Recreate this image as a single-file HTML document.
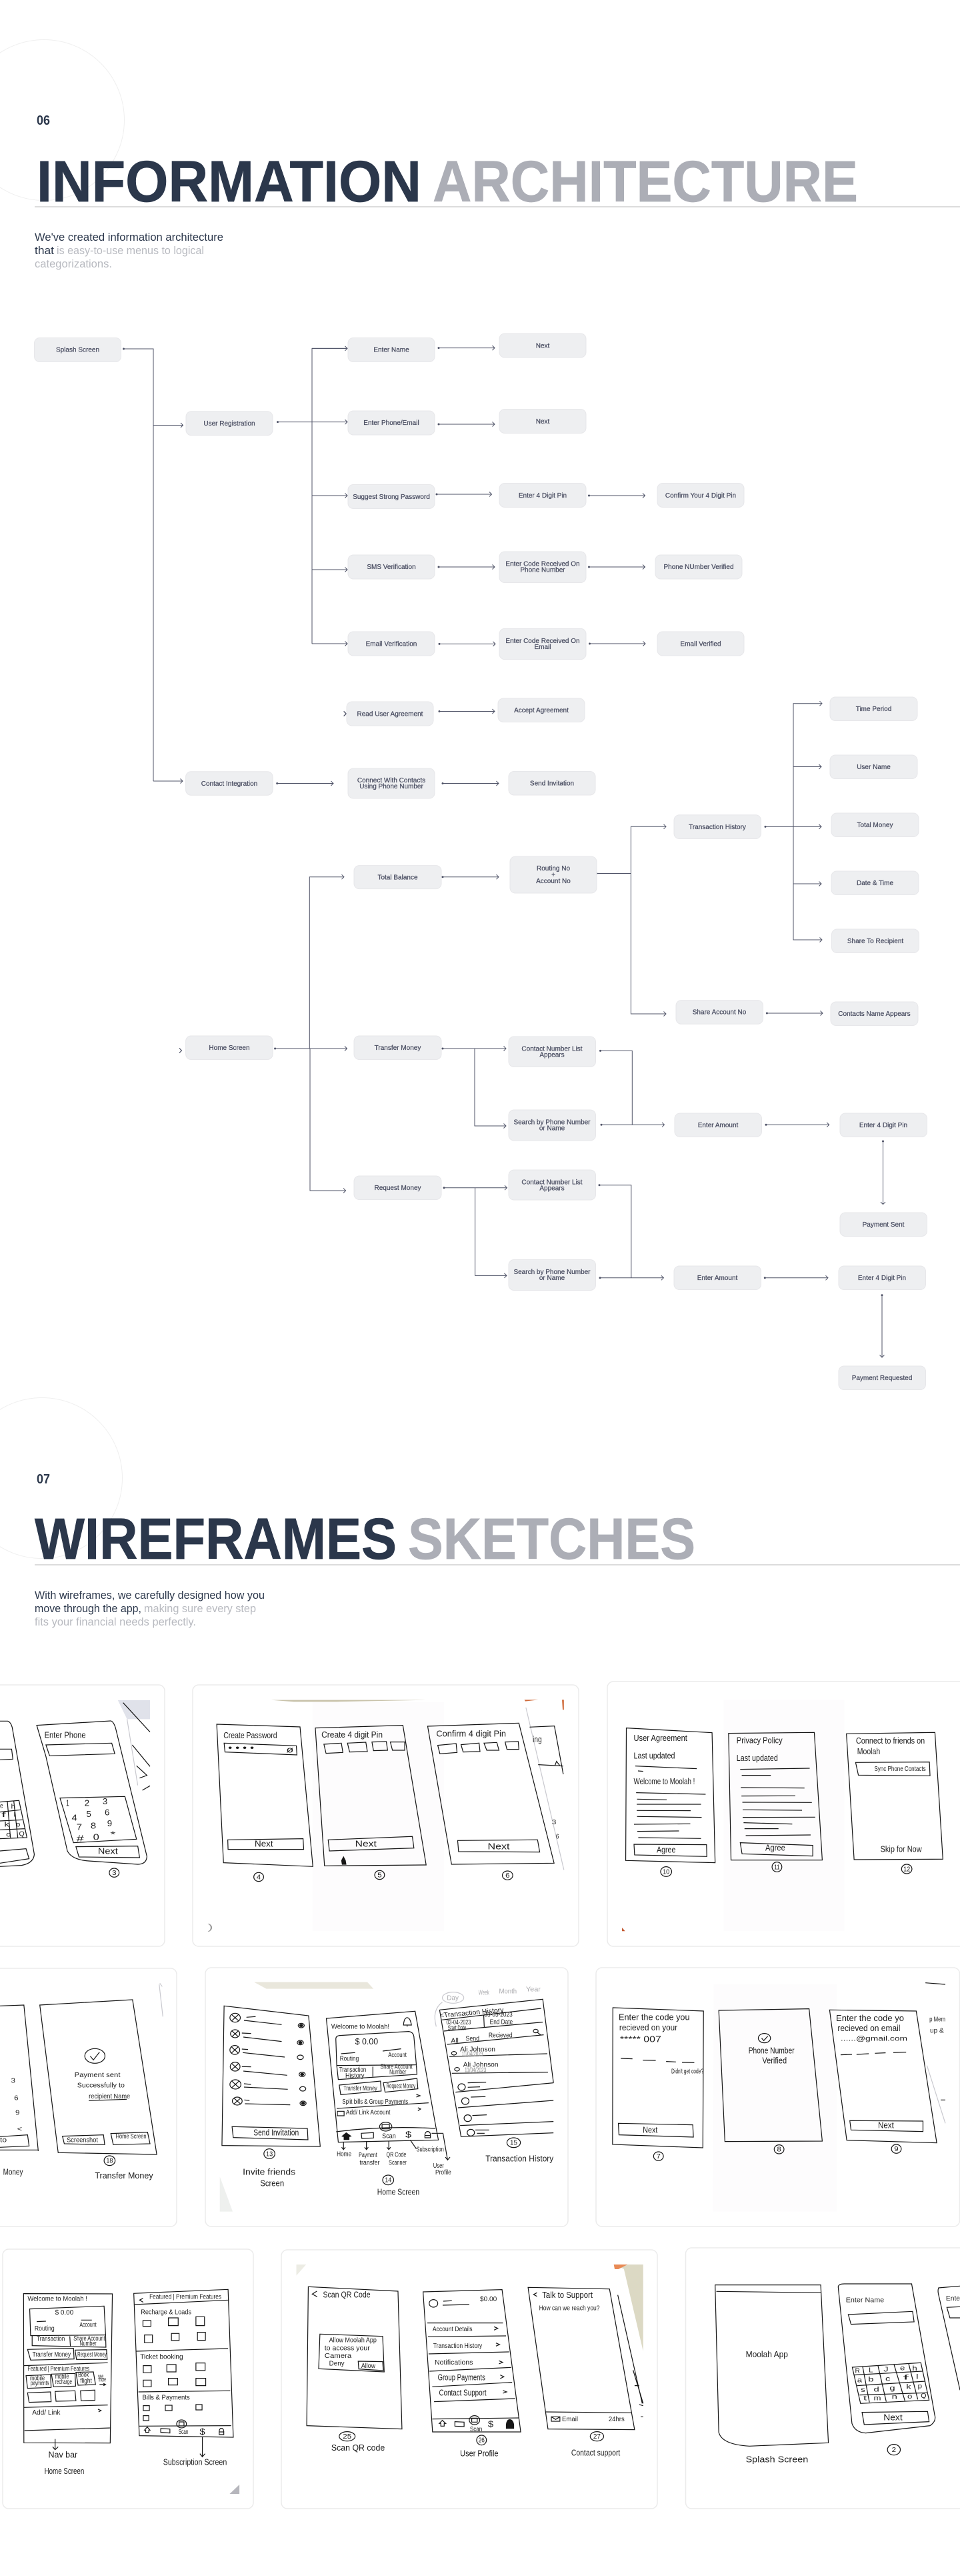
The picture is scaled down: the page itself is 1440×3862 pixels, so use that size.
<!DOCTYPE html>
<html lang="en">
<head>
<meta charset="utf-8">
<title>Information Architecture and Wireframes</title>
<style>
html,body{margin:0;padding:0;background:#fff;width:1440px;height:3862px;overflow:hidden}
svg{display:block;font-family:"Liberation Sans",sans-serif}
.n rect{fill:#eeeff1;stroke:#e7e7ea;stroke-width:1}
.n text{font-size:10px;fill:#4a4e62;text-anchor:middle;font-weight:400;stroke:#4a4e62;stroke-width:.25}
.c path{fill:none;stroke:#4f5367;stroke-width:1;marker-start:url(#d);marker-end:url(#a)}
.c path.b{marker-start:none}
.card{fill:#fff;stroke:#ebebeb;stroke-width:1.5}
.h{stroke-width:.7}
.z path,.z polygon,.z line,.z ellipse,.z rect,.z circle{vector-effect:non-scaling-stroke;fill:none;stroke:#161616;stroke-width:1.2}
.z .f{fill:#161616}
.z .p{stroke:none}
.z .g{stroke:#c9c9cf}
.z text{fill:#1c1c1c;font-size:40px}
.z .s{font-size:31px}
.z .l{fill:#a9a9ad}
</style>
</head>
<body>
<svg width="1440" height="3862" viewBox="0 0 1440 3862" xmlns="http://www.w3.org/2000/svg">
<defs>
<marker id="a" viewBox="-6 -6 12 12" refX="0" refY="0" markerWidth="12" markerHeight="12" orient="auto" markerUnits="userSpaceOnUse"><path d="M-3.5,-3.5L0,0L-3.5,3.5" fill="none" stroke="#4f5367" stroke-width="1"/></marker>
<marker id="d" viewBox="-3 -3 6 6" refX="0" refY="0" markerWidth="6" markerHeight="6" orient="auto" markerUnits="userSpaceOnUse"><circle r="1.5" fill="#4f5367"/></marker>
</defs>
<rect width="1440" height="3862" fill="#fff"/>

<!-- Section 06 -->
<circle cx="66" cy="180" r="120.5" fill="none" stroke="#efefef" stroke-width="1"/>
<text x="55" y="187" font-size="20" font-weight="700" fill="#2b374b" textLength="20" lengthAdjust="spacingAndGlyphs">06</text>
<text class="h" x="55" y="302" font-size="87" font-weight="700" fill="#2b374b" stroke="#2b374b" textLength="577" lengthAdjust="spacingAndGlyphs">INFORMATION</text>
<text class="h" x="649" y="302" font-size="87" font-weight="700" fill="#acaeb6" stroke="#acaeb6" textLength="638" lengthAdjust="spacingAndGlyphs">ARCHITECTURE</text>
<rect x="52" y="309" width="1388" height="2" fill="#dcdcdc"/>
<text x="52" y="361" font-size="17" fill="#2b374b" textLength="283" lengthAdjust="spacingAndGlyphs">We've created information architecture</text>
<text x="52" y="381" font-size="17" fill="#2b374b" textLength="29" lengthAdjust="spacingAndGlyphs">that</text>
<text x="85" y="381" font-size="17" fill="#b8bac0" textLength="221" lengthAdjust="spacingAndGlyphs">is easy-to-use menus to logical</text>
<text x="52" y="401" font-size="17" fill="#b8bac0" textLength="116" lengthAdjust="spacingAndGlyphs">categorizations.</text>

<!-- Connectors -->
<g class="c">
<path class="b" style="marker-end:none" d="M185.5,523H230V1171"/>
<circle cx="185.5" cy="523" r="1.5" fill="#4f5367"/>
<path class="b" d="M230,637.5H274.5"/>
<path class="b" d="M230,1171H274"/>
<path d="M416.5,632.6H521"/>
<path class="b" style="marker-end:none" d="M521,522.4H468V965"/>
<path class="b" d="M468,522.4H521"/>
<path class="b" d="M468,743H521"/>
<path class="b" d="M468,854H521"/>
<path class="b" d="M468,965H521"/>
<path class="b" d="M515,1070H519" style="stroke:none"/>
<path d="M658,521.6H742"/>
<path d="M658,636H742"/>
<path d="M655,741H737.5"/>
<path d="M658,850H742"/>
<path d="M659,965.4H743"/>
<path d="M659,1066.5H742"/>
<path d="M883.5,743H967.5"/>
<path d="M883.5,850H967.5"/>
<path d="M884.5,965H968"/>
<path d="M415.7,1174.5H500"/>
<path d="M664,1174.5H748"/>
<path d="M664,1314.7H748"/>
<path class="b" d="M268,1575H272.5" style="stroke:none"/>
<path d="M412.6,1572H520.5"/>
<path class="b" d="M464.3,1572V1314.7H516"/>
<path class="b" d="M465,1572V1785H518.6"/>
<path d="M664,1572H759"/>
<path class="b" d="M712,1572V1688H759"/>
<path d="M666,1780.7H760.5"/>
<path class="b" d="M712.6,1780.7V1912.4H760"/>
<path d="M894.7,1309.5H946.4"  style="marker-end:none"/>
<path class="b" d="M946.4,1309.5V1239.3H999"/>
<path class="b" d="M946.4,1309.5V1520H999"/>
<path d="M1148,1239.4H1232"/>
<path class="b" d="M1190,1239.4V1054.7H1233"/>
<path class="b" d="M1190,1149.5H1232"/>
<path class="b" d="M1190,1239.4V1409H1233"/>
<path class="b" d="M1190,1325H1232"/>
<path d="M1150.4,1519H1234"/>
<path style="marker-end:none" d="M900.5,1575.4H948.3V1686.3"/>
<path d="M902,1686.3H996.5"/>
<path style="marker-end:none" d="M899,1776.8H946.8V1915.8"/>
<path d="M900,1915.8H995.4"/>
<path d="M1149,1686.3H1243.7"/>
<path d="M1324.5,1711V1805.6"/>
<path d="M1147.3,1915.8H1242"/>
<path d="M1323,1941.8V2035"/>
</g>
<path d="M516,1066.5L519.5,1070L516,1073.5M269,1571.5L272.5,1575L269,1578.5" fill="none" stroke="#4f5367"/>

<!-- Nodes -->
<g class="n">
<rect x="51.5" y="506.5" width="130" height="36" rx="8"/><text x="116.5" y="527.5">Splash Screen</text>
<rect x="279" y="616.7" width="130" height="36" rx="8"/><text x="344" y="638">User Registration</text>
<rect x="522" y="506.5" width="130" height="36" rx="8"/><text x="587" y="527.5">Enter Name</text>
<rect x="522" y="616" width="130" height="36" rx="8"/><text x="587" y="637">Enter Phone/Email</text>
<rect x="522" y="726.5" width="130" height="36" rx="8"/><text x="587" y="748">Suggest Strong Password</text>
<rect x="522" y="832" width="130" height="36" rx="8"/><text x="587" y="853">SMS Verification</text>
<rect x="522" y="947" width="130" height="36" rx="8"/><text x="587" y="968.5">Email Verification</text>
<rect x="520" y="1052" width="130" height="36" rx="8"/><text x="585" y="1073.5">Read User Agreement</text>
<rect x="749" y="500" width="130" height="36" rx="8"/><text x="814" y="521.5">Next</text>
<rect x="749" y="613.5" width="130" height="36" rx="8"/><text x="814" y="635">Next</text>
<rect x="749" y="724.5" width="130" height="36" rx="8"/><text x="814" y="746">Enter 4 Digit Pin</text>
<rect x="986" y="724.5" width="130" height="36" rx="8"/><text x="1051" y="746">Confirm Your 4 Digit Pin</text>
<rect x="749" y="827" width="130" height="46.5" rx="8"/><text x="814" y="848.5">Enter Code Received On</text><text x="814" y="857.5">Phone Number</text>
<rect x="983" y="832" width="130" height="36" rx="8"/><text x="1048" y="853">Phone NUmber Verified</text>
<rect x="749" y="942.4" width="130" height="46.2" rx="8"/><text x="814" y="964">Enter Code Received On</text><text x="814" y="973">Email</text>
<rect x="986" y="947" width="130" height="36" rx="8"/><text x="1051" y="968.5">Email Verified</text>
<rect x="747" y="1047" width="130" height="35.5" rx="8"/><text x="812" y="1068">Accept Agreement</text>
<rect x="1245" y="1045" width="131" height="35.5" rx="8"/><text x="1310.5" y="1066">Time Period</text>
<rect x="1245" y="1132" width="131" height="35.5" rx="8"/><text x="1310.5" y="1153">User Name</text>
<rect x="1247" y="1219" width="131" height="35.5" rx="8"/><text x="1312.5" y="1240">Total Money</text>
<rect x="1247" y="1306" width="131" height="35.5" rx="8"/><text x="1312.5" y="1327">Date &amp; Time</text>
<rect x="1247.5" y="1393" width="131" height="35.5" rx="8"/><text x="1313" y="1414">Share To Recipient</text>
<rect x="1246" y="1502" width="131" height="35.5" rx="8"/><text x="1311.5" y="1523">Contacts Name Appears</text>
<rect x="278.6" y="1156.7" width="130.5" height="35.5" rx="8"/><text x="344" y="1178">Contact Integration</text>
<rect x="522" y="1152" width="130" height="45" rx="8"/><text x="587" y="1173">Connect With Contacts</text><text x="587" y="1182">Using Phone Number</text>
<rect x="763" y="1156.5" width="130" height="35.5" rx="8"/><text x="828" y="1177.5">Send Invitation</text>
<rect x="531" y="1297.6" width="131" height="35" rx="8"/><text x="596.5" y="1318.5">Total Balance</text>
<rect x="765" y="1284" width="130" height="55" rx="8"/><text x="830" y="1305">Routing No</text><text x="830" y="1314.5">+</text><text x="830" y="1324">Account No</text>
<rect x="278.6" y="1553" width="130.5" height="35.5" rx="8"/><text x="344" y="1574">Home Screen</text>
<rect x="531" y="1553" width="131" height="35.5" rx="8"/><text x="596.5" y="1574">Transfer Money</text>
<rect x="531" y="1763" width="131" height="35.5" rx="8"/><text x="596.5" y="1784">Request Money</text>
<rect x="763" y="1554" width="130.5" height="45.5" rx="8"/><text x="828" y="1575.5">Contact Number List</text><text x="828" y="1584.5">Appears</text>
<rect x="763" y="1664" width="130.5" height="46" rx="8"/><text x="828" y="1685.5">Search by Phone Number</text><text x="828" y="1694.5">or Name</text>
<rect x="763" y="1754" width="130.5" height="45" rx="8"/><text x="828" y="1775.5">Contact Number List</text><text x="828" y="1784.5">Appears</text>
<rect x="763" y="1888.5" width="130.5" height="46" rx="8"/><text x="828" y="1910">Search by Phone Number</text><text x="828" y="1919">or Name</text>
<rect x="1011" y="1221.8" width="130.5" height="35.7" rx="8"/><text x="1076" y="1243">Transaction History</text>
<rect x="1014" y="1499.6" width="130.5" height="35.7" rx="8"/><text x="1079" y="1520.5">Share Account No</text>
<rect x="1012" y="1669" width="130.5" height="35.5" rx="8"/><text x="1077" y="1690">Enter Amount</text>
<rect x="1260" y="1669" width="130.5" height="35.5" rx="8"/><text x="1325" y="1690">Enter 4 Digit Pin</text>
<rect x="1260" y="1818" width="130.5" height="35.5" rx="8"/><text x="1325" y="1839">Payment Sent</text>
<rect x="1011" y="1898" width="130.5" height="35.5" rx="8"/><text x="1076" y="1919">Enter Amount</text>
<rect x="1258" y="1898" width="130.5" height="35.5" rx="8"/><text x="1323" y="1919">Enter 4 Digit Pin</text>
<rect x="1258" y="2048" width="130.5" height="35.5" rx="8"/><text x="1323" y="2069">Payment Requested</text>
</g>

<!-- Section 07 -->
<circle cx="63" cy="2216" r="120.5" fill="none" stroke="#efefef" stroke-width="1"/>
<text x="55" y="2224" font-size="20" font-weight="700" fill="#2b374b" textLength="20" lengthAdjust="spacingAndGlyphs">07</text>
<text class="h" x="52" y="2337" font-size="87" font-weight="700" fill="#2b374b" stroke="#2b374b" textLength="543" lengthAdjust="spacingAndGlyphs">WIREFRAMES</text>
<text class="h" x="612" y="2337" font-size="87" font-weight="700" fill="#acaeb6" stroke="#acaeb6" textLength="431" lengthAdjust="spacingAndGlyphs">SKETCHES</text>
<rect x="52" y="2345" width="1388" height="2" fill="#dcdcdc"/>
<text x="52" y="2397" font-size="17" fill="#2b374b" textLength="345" lengthAdjust="spacingAndGlyphs">With wireframes, we carefully designed how you</text>
<text x="52" y="2417" font-size="17" fill="#2b374b" textLength="160" lengthAdjust="spacingAndGlyphs">move through the app,</text>
<text x="216" y="2417" font-size="17" fill="#b8bac0" textLength="168" lengthAdjust="spacingAndGlyphs">making sure every step</text>
<text x="52" y="2437" font-size="17" fill="#b8bac0" textLength="242" lengthAdjust="spacingAndGlyphs">fits your financial needs perfectly.</text>

<!-- Cards -->
<rect class="card" x="-20" y="2526" width="267" height="392" rx="9"/>
<rect class="card" x="289" y="2526" width="579" height="392" rx="9"/>
<rect class="card" x="911" y="2521" width="560" height="397" rx="9"/>
<rect class="card" x="-20" y="2951" width="285" height="387" rx="9"/>
<rect class="card" x="308" y="2950" width="544" height="388" rx="9"/>
<rect class="card" x="894" y="2950" width="545.5" height="388" rx="9"/>
<rect class="card" x="4" y="3372" width="376" height="389" rx="9"/>
<rect class="card" x="422" y="3373" width="564" height="388" rx="9"/>
<rect class="card" x="1028.5" y="3370" width="440" height="391" rx="9"/>

<!-- Row 1 left -->
<g class="z" transform="translate(0,2500) scale(.4592,.3333)">
<polygon class="p" style="fill:#e0e2ea" points="385,147 490,147 490,232 415,232"/>
<polygon class="p" style="fill:#fdfcfd" points="1020,155 1450,155 1450,1185 1020,1185"/>
<polygon class="p" style="fill:#c9c3ab" points="885,146 1390,146 1100,154 960,154"/>
<path class="g" d="M415,232L450,530"/>
<path d="M0,241H25Q35,245 40,270L112,840Q110,880 70,890L0,895M0,367L38,367L42,412L0,415M0,605L62,598L88,765L0,770M0,650L68,640M0,690L75,685M0,730L82,725M24,602L34,765M45,600L58,765M0,825L85,815L95,860L0,880"/>
<text class="s" x="0" y="632" textLength="10" lengthAdjust="spacingAndGlyphs">e</text><text class="s" x="36" y="634" textLength="14" lengthAdjust="spacingAndGlyphs">h</text><text class="s" x="5" y="672" textLength="14" lengthAdjust="spacingAndGlyphs">f</text><text class="s" x="44" y="670" textLength="8" lengthAdjust="spacingAndGlyphs">l</text><text class="s" x="14" y="716" textLength="16" lengthAdjust="spacingAndGlyphs">k</text><text class="s" x="52" y="715" textLength="14" lengthAdjust="spacingAndGlyphs">p</text><text class="s" x="20" y="760" textLength="16" lengthAdjust="spacingAndGlyphs">o</text><text class="s" x="62" y="757" textLength="18" lengthAdjust="spacingAndGlyphs">Q</text>
<path d="M120,260L362,240Q372,245 378,275L480,850Q478,885 450,885L290,870Q235,865 220,825L150,400Z"/>
<polygon points="150,348 365,340 375,388 162,397"/><polygon points="196,587 408,580 446,772 240,788"/><polygon points="248,806 450,803 456,855 258,852"/>
<text x="145" y="316" textLength="135" lengthAdjust="spacingAndGlyphs">Enter Phone</text>
<text x="216" y="622" textLength="10" lengthAdjust="spacingAndGlyphs">1</text><text x="276" y="622" textLength="16" lengthAdjust="spacingAndGlyphs">2</text><text x="335" y="615" textLength="16" lengthAdjust="spacingAndGlyphs">3</text><text x="234" y="688" textLength="18" lengthAdjust="spacingAndGlyphs">4</text><text x="282" y="672" textLength="16" lengthAdjust="spacingAndGlyphs">5</text><text x="342" y="664" textLength="16" lengthAdjust="spacingAndGlyphs">6</text><text x="250" y="730" textLength="18" lengthAdjust="spacingAndGlyphs">7</text><text x="296" y="724" textLength="18" lengthAdjust="spacingAndGlyphs">8</text><text x="350" y="714" textLength="16" lengthAdjust="spacingAndGlyphs">9</text><text x="250" y="782" textLength="24" lengthAdjust="spacingAndGlyphs">#</text><text x="304" y="776" textLength="20" lengthAdjust="spacingAndGlyphs">0</text><text x="360" y="764" textLength="18" lengthAdjust="spacingAndGlyphs">*</text>
<text x="320" y="838" textLength="65" lengthAdjust="spacingAndGlyphs">Next</text>
<ellipse cx="373" cy="923" rx="16" ry="20"/><text class="s" x="366" y="933" textLength="14" lengthAdjust="spacingAndGlyphs">3</text>
<path d="M402,158L490,290M432,348L490,445M446,442L480,485L456,497M465,552L490,532"/>
<!-- Card 2 -->
<polygon points="708,255 980,267 1022,895 730,878"/><polygon points="732,340 968,352 970,393 735,380"/><polygon points="744,775 990,770 992,818 745,818"/>
<text x="730" y="318" textLength="175" lengthAdjust="spacingAndGlyphs">Create Password</text>
<text x="745" y="374" textLength="85" lengthAdjust="spacingAndGlyphs">• • • •</text><text x="935" y="382" textLength="24" lengthAdjust="spacingAndGlyphs">ø</text>
<text x="832" y="805" textLength="60" lengthAdjust="spacingAndGlyphs">Next</text>
<ellipse cx="845" cy="942" rx="16" ry="20"/><text class="s" x="838" y="952" textLength="14" lengthAdjust="spacingAndGlyphs">4</text>
<polygon points="1030,272 1316,260 1392,888 1060,892"/>
<polygon points="1058,345 1115,340 1120,382 1065,386"/><polygon points="1135,340 1195,336 1200,378 1142,380"/><polygon points="1215,335 1262,333 1266,372 1220,374"/><polygon points="1275,335 1322,335 1322,372 1282,372"/><polygon points="1072,775 1347,760 1352,812 1076,825"/>
<text x="1050" y="315" textLength="200" lengthAdjust="spacingAndGlyphs">Create 4 digit Pin</text>
<text x="1160" y="805" textLength="70" lengthAdjust="spacingAndGlyphs">Next</text>
<ellipse cx="1240" cy="933" rx="16" ry="20"/><text class="s" x="1233" y="943" textLength="14" lengthAdjust="spacingAndGlyphs">5</text>
<path class="f" d="M1118,885L1116,868L1122,852L1128,868L1130,885Z"/>
<text x="678" y="1180" textLength="18" lengthAdjust="spacingAndGlyphs" style="fill:#999">)</text>
</g>

<!-- Row 1 right -->
<g class="z" transform="translate(720,2500) scale(.4592,.3333)">
<polygon class="p" style="fill:#cf6a3a" points="145,145 190,145 148,152"/>
<polygon class="p" style="fill:#cf6a3a" points="268,145 274,145 274,190 270,190"/>
<path class="g" d="M150,180L274,910"/>
<polygon points="-171,264 127,250 242,880 -93,885"/>
<polygon points="-138,350 -78,342 -75,382 -131,388"/><polygon points="-62,347 -3,340 0,378 -55,380"/><polygon points="13,340 55,337 62,372 22,372"/><polygon points="82,335 125,333 127,368 88,368"/><polygon points="-73,778 188,775 195,830 -70,828"/>
<text x="-143" y="310" textLength="228" lengthAdjust="spacingAndGlyphs">Confirm 4 digit Pin</text>
<text x="25" y="818" textLength="72" lengthAdjust="spacingAndGlyphs">Next</text>
<ellipse cx="90" cy="935" rx="17" ry="20"/><text class="s" x="83" y="945" textLength="14" lengthAdjust="spacingAndGlyphs">6</text>
<path d="M162,268L243,263L272,480M190,437L272,443M245,440L250,422L260,440"/>
<text x="172" y="336" textLength="30" lengthAdjust="spacingAndGlyphs">ing</text>
<text class="s" x="235" y="705" textLength="14" lengthAdjust="spacingAndGlyphs">3</text><text class="s" x="248" y="770" textLength="10" lengthAdjust="spacingAndGlyphs">6</text>
<!-- Card 3 -->
<polygon class="p" style="fill:#fdfcfd" points="796,145 1190,145 1190,1185 796,1185"/>
<polygon class="p" style="fill:#c2552c" points="464,1170 474,1186 464,1186"/>
<polygon points="478,272 758,293 768,878 476,868"/><polygon points="503,795 740,797 741,850 505,843"/>
<text x="502" y="330" textLength="175" lengthAdjust="spacingAndGlyphs">User Agreement</text>
<text x="502" y="410" textLength="135" lengthAdjust="spacingAndGlyphs">Last updated</text>
<text x="502" y="525" textLength="200" lengthAdjust="spacingAndGlyphs">Welcome to Moolah !</text>
<path d="M507,443L708,455M516,465L533,467M510,563L737,570M513,592L610,595M512,615L722,615M512,643L688,644M513,670L724,674M503,705L687,703M514,737L650,735M517,765L722,769"/>
<text x="577" y="832" textLength="62" lengthAdjust="spacingAndGlyphs">Agree</text>
<ellipse cx="608" cy="918" rx="18" ry="22"/><text class="s" x="597" y="928" textLength="22" lengthAdjust="spacingAndGlyphs">10</text>
<polygon points="812,296 1092,292 1118,866 820,866"/><polygon points="850,788 1087,800 1087,848 856,838"/>
<text x="838" y="340" textLength="150" lengthAdjust="spacingAndGlyphs">Privacy Policy</text>
<text x="838" y="420" textLength="135" lengthAdjust="spacingAndGlyphs">Last updated</text>
<path d="M850,458L1077,453M855,485L950,485M852,540L1060,542M854,578L1030,577M857,606L1084,607M858,640L1052,642M858,674L1095,673M861,698L1020,704M864,725L975,725M868,756L1080,753"/>
<text x="932" y="823" textLength="65" lengthAdjust="spacingAndGlyphs">Agree</text>
<ellipse cx="970" cy="897" rx="16" ry="22"/><text class="s" x="961" y="907" textLength="18" lengthAdjust="spacingAndGlyphs">11</text>
<polygon points="1197,298 1486,292 1512,862 1222,864"/><polygon points="1227,427 1468,425 1470,487 1236,484"/>
<text x="1228" y="342" textLength="225" lengthAdjust="spacingAndGlyphs">Connect to friends on</text>
<text x="1232" y="390" textLength="75" lengthAdjust="spacingAndGlyphs">Moolah</text>
<text class="s" x="1288" y="465" textLength="168" lengthAdjust="spacingAndGlyphs">Sync Phone Contacts</text>
<text x="1308" y="830" textLength="135" lengthAdjust="spacingAndGlyphs">Skip for Now</text>
<ellipse cx="1394" cy="906" rx="17" ry="21"/><text class="s" x="1383" y="916" textLength="22" lengthAdjust="spacingAndGlyphs">12</text>
</g>

<!-- Row 2 left -->
<g class="z" transform="translate(0,2930) scale(.4592,.3333)">
<path d="M0,232L78,228L125,885M0,820L90,812L95,862L0,868M0,880L125,880"/>
<text class="s" x="36" y="578" textLength="14" lengthAdjust="spacingAndGlyphs">3</text><text class="s" x="46" y="655" textLength="14" lengthAdjust="spacingAndGlyphs">6</text><text class="s" x="50" y="722" textLength="14" lengthAdjust="spacingAndGlyphs">9</text><text class="s" x="56" y="795" textLength="16" lengthAdjust="spacingAndGlyphs">&lt;</text>
<text class="s" x="0" y="845" textLength="22" lengthAdjust="spacingAndGlyphs">to</text>
<text x="10" y="992" textLength="65" lengthAdjust="spacingAndGlyphs">Money</text>
<path d="M522,130L530,145M520,135L532,280" class="g"/>
<polygon points="130,228 433,204 512,900 190,892"/>
<circle cx="310" cy="457" r="33"/>
<path d="M295,458L305,475L325,440"/>
<text class="s" x="243" y="552" textLength="150" lengthAdjust="spacingAndGlyphs">Payment sent</text>
<text class="s" x="252" y="598" textLength="155" lengthAdjust="spacingAndGlyphs">Successfully to</text>
<text class="s" x="290" y="648" textLength="135" lengthAdjust="spacingAndGlyphs">recipient Name</text>
<path d="M290,658L414,652"/>
<polygon points="204,818 338,812 342,856 210,852"/><polygon points="362,806 482,800 490,852 370,856"/>
<text class="s" x="218" y="845" textLength="102" lengthAdjust="spacingAndGlyphs">Screenshot</text>
<text class="s" x="378" y="828" textLength="100" lengthAdjust="spacingAndGlyphs">Home Screen</text>
<ellipse cx="358" cy="928" rx="18" ry="22"/><text class="s" x="347" y="938" textLength="22" lengthAdjust="spacingAndGlyphs">18</text>
<text x="310" y="1008" textLength="190" lengthAdjust="spacingAndGlyphs">Transfer Money</text>
<!-- Card 5 -->
<polygon class="p" style="fill:#e9e7dc" points="830,125 1200,125 1220,155 870,155"/>
<polygon class="p" style="fill:#eef0ee" points="718,1000 745,1100 760,1157 718,1157"/>
<polygon points="732,232 1008,276 1046,864 725,860"/>
<g>
<ellipse cx="768" cy="285" rx="17" ry="20"/><path d="M756,270L780,300M780,270L756,300M805,283L835,280M797,297L920,316"/><circle cx="984" cy="320" r="10"/><circle class="f" cx="984" cy="320" r="5"/>
<ellipse cx="768" cy="357" rx="15" ry="18"/><path d="M758,345L778,370M778,345L758,370M790,354L820,356M795,372L920,392"/><circle cx="981" cy="397" r="10"/><circle class="f" cx="981" cy="397" r="5"/>
<ellipse cx="767" cy="430" rx="16" ry="20"/><path d="M756,416L778,444M778,416L756,444M790,426L810,428M793,442L930,462"/><circle cx="981" cy="463" r="10"/>
<ellipse cx="768" cy="505" rx="16" ry="20"/><path d="M757,491L779,519M779,491L757,519M790,505L820,506M795,525L938,544"/><circle cx="987" cy="540" r="10"/><circle class="f" cx="987" cy="540" r="5"/>
<ellipse cx="769" cy="585" rx="18" ry="21"/><path d="M757,570L781,600M781,570L757,600M797,582L820,585M797,597L940,607"/><circle cx="989" cy="605" r="10"/>
<ellipse cx="775" cy="660" rx="16" ry="18"/><path d="M765,648L785,672M785,648L765,672M798,655L815,657M800,672L948,677"/><circle cx="990" cy="670" r="10"/><circle class="f" cx="990" cy="670" r="5"/>
</g>
<polygon points="758,775 1004,783 1006,834 762,824"/>
<text x="828" y="815" textLength="148" lengthAdjust="spacingAndGlyphs">Send Invitation</text>
<ellipse cx="880" cy="897" rx="18" ry="22"/><text class="s" x="869" y="907" textLength="22" lengthAdjust="spacingAndGlyphs">13</text>
<text x="793" y="992" textLength="172" lengthAdjust="spacingAndGlyphs">Invite friends</text>
<text x="850" y="1042" textLength="78" lengthAdjust="spacingAndGlyphs">Screen</text>
<path d="M1066,288L1356,256L1425,785L1432,835L1105,845Z"/>
<text class="s" x="1082" y="335" textLength="190" lengthAdjust="spacingAndGlyphs">Welcome to Moolah!</text>
<path d="M1318,318Q1320,285 1330,285Q1340,285 1344,318ZM1330,318V325"/>
<path d="M1097,380Q1097,367 1110,365L1335,347Q1350,350 1352,370L1360,497L1100,500ZM1100,500L1105,563L1362,540L1360,497M1218,505L1218,550M1114,447L1160,442M1250,435L1310,425"/>
<text x="1160" y="405" textLength="75" lengthAdjust="spacingAndGlyphs">$ 0.00</text>
<text class="s" x="1110" y="478" textLength="62" lengthAdjust="spacingAndGlyphs">Routing</text>
<text class="s" x="1268" y="462" textLength="60" lengthAdjust="spacingAndGlyphs">Account</text>
<text class="s" x="1108" y="528" textLength="88" lengthAdjust="spacingAndGlyphs">Transaction</text>
<text class="s" x="1128" y="555" textLength="62" lengthAdjust="spacingAndGlyphs">History</text>
<text class="s" x="1242" y="515" textLength="105" lengthAdjust="spacingAndGlyphs">Share Account</text>
<text class="s" x="1272" y="538" textLength="55" lengthAdjust="spacingAndGlyphs">Number</text>
<polygon points="1108,588 1243,570 1245,615 1113,631"/><polygon points="1252,578 1362,558 1365,605 1258,620"/>
<text class="s" x="1122" y="612" textLength="110" lengthAdjust="spacingAndGlyphs">Transfer Money</text>
<text class="s" x="1262" y="602" textLength="95" lengthAdjust="spacingAndGlyphs">Request Money</text>
<text class="s" x="1118" y="672" textLength="215" lengthAdjust="spacingAndGlyphs">Split bills &amp; Group Payments</text>
<path d="M1360,630L1372,636L1360,642M1100,693L1400,668M1365,690L1374,696L1365,703"/>
<rect x="1102" y="706" width="22" height="20"/>
<text class="s" x="1130" y="720" textLength="145" lengthAdjust="spacingAndGlyphs">Add/ Link Account</text>
<path d="M1098,798Q1250,770 1422,783"/>
<circle cx="1260" cy="775" r="20"/><rect x="1248" y="765" width="24" height="20"/>
<path class="f" d="M1118,818L1131,803L1146,818L1140,820V833H1124V820Z"/>
<polygon points="1180,805 1220,802 1220,826 1182,828"/>
<text class="s" x="1248" y="826" textLength="45" lengthAdjust="spacingAndGlyphs">Scan</text>
<text x="1324" y="824" textLength="20" lengthAdjust="spacingAndGlyphs">$</text>
<path d="M1388,825V810Q1390,797 1397,797Q1405,797 1406,810V825ZM1388,815H1406"/>
<path d="M1122,845V878M1116,868L1122,878L1128,868M1197,840V878M1191,868L1197,878L1203,868M1270,840V878M1264,868L1270,878L1276,868M1340,835L1360,875M1410,805H1447L1462,925M1455,912L1462,925L1470,912"/>
<text class="s" x="1100" y="907" textLength="48" lengthAdjust="spacingAndGlyphs">Home</text>
<text class="s" x="1172" y="912" textLength="60" lengthAdjust="spacingAndGlyphs">Payment</text>
<text class="s" x="1175" y="947" textLength="65" lengthAdjust="spacingAndGlyphs">transfer</text>
<text class="s" x="1262" y="910" textLength="65" lengthAdjust="spacingAndGlyphs">QR Code</text>
<text class="s" x="1270" y="947" textLength="58" lengthAdjust="spacingAndGlyphs">Scanner</text>
<text class="s" x="1360" y="886" textLength="90" lengthAdjust="spacingAndGlyphs">Subscription</text>
<text class="s" x="1415" y="960" textLength="35" lengthAdjust="spacingAndGlyphs">User</text>
<text class="s" x="1422" y="990" textLength="52" lengthAdjust="spacingAndGlyphs">Profile</text>
<ellipse cx="1268" cy="1015" rx="18" ry="22"/><text class="s" x="1257" y="1025" textLength="22" lengthAdjust="spacingAndGlyphs">14</text>
<text x="1232" y="1082" textLength="138" lengthAdjust="spacingAndGlyphs">Home Screen</text>
<ellipse class="g" cx="1480" cy="195" rx="35" ry="25"/>
<path class="g" d="M1445,215Q1410,250 1425,325"/>
<text class="s l" x="1460" y="205" textLength="38" lengthAdjust="spacingAndGlyphs">Day</text>
</g>

<!-- Row 2 right -->
<g class="z" transform="translate(720,2930) scale(.4592,.3333)">
<path d="M-132,250L205,202L240,578M-132,250L-62,820L240,803M-125,295L200,243M-118,345L205,305M-108,405L208,362M-100,460L220,447M-92,535L222,530M-80,620L240,578M-72,690L240,657M-65,770L240,752M12,272L14,330"/>
<text class="s" x="-130" y="285" textLength="210" lengthAdjust="spacingAndGlyphs" transform="rotate(-7 -130 285)">&lt;Transaction History</text>
<text class="s" x="-110" y="315" textLength="80" lengthAdjust="spacingAndGlyphs">03-04-2023</text>
<text class="s" x="-105" y="340" textLength="60" lengthAdjust="spacingAndGlyphs">Start Date</text>
<text class="s" x="14" y="280" textLength="92" lengthAdjust="spacingAndGlyphs">03-05-2023</text>
<text class="s" x="32" y="313" textLength="75" lengthAdjust="spacingAndGlyphs">End Date</text>
<text class="s" x="-95" y="398" textLength="25" lengthAdjust="spacingAndGlyphs">All</text>
<text class="s" x="-47" y="388" textLength="45" lengthAdjust="spacingAndGlyphs">Send</text>
<text class="s" x="28" y="373" textLength="78" lengthAdjust="spacingAndGlyphs">Recieved</text>
<circle cx="182" cy="345" r="8"/><path d="M188,352L198,362"/>
<circle cx="-85" cy="445" r="8"/><circle cx="-75" cy="517" r="8"/>
<text class="s" x="-65" y="437" textLength="115" lengthAdjust="spacingAndGlyphs">Ali Johnson</text>
<text class="s" x="-60" y="458" textLength="70" lengthAdjust="spacingAndGlyphs" style="fill:#888">11/04/2023</text>
<text class="s" x="-55" y="505" textLength="115" lengthAdjust="spacingAndGlyphs">Ali Johnson</text>
<text class="s" x="-50" y="530" textLength="70" lengthAdjust="spacingAndGlyphs" style="fill:#888">11/04/2023</text>
<ellipse cx="-60" cy="597" rx="12" ry="15"/><ellipse cx="-48" cy="660" rx="12" ry="15"/><ellipse cx="-40" cy="737" rx="12" ry="15"/><ellipse cx="-30" cy="802" rx="12" ry="15"/>
<path d="M-40,578L20,575M-40,598L0,596M-30,642L18,640M-25,725L22,722M-15,790L30,790M-10,805L15,805"/>
<text class="s l" x="-5" y="182" textLength="35" lengthAdjust="spacingAndGlyphs">Week</text>
<text class="s l" x="62" y="176" textLength="58" lengthAdjust="spacingAndGlyphs">Month</text>
<text class="s l" x="150" y="166" textLength="48" lengthAdjust="spacingAndGlyphs">Year</text>
<ellipse cx="110" cy="847" rx="22" ry="22"/><text class="s" x="98" y="857" textLength="24" lengthAdjust="spacingAndGlyphs">15</text>
<text x="18" y="932" textLength="222" lengthAdjust="spacingAndGlyphs">Transaction History</text>
<!-- Card 6 -->
<polygon class="p" style="fill:#fdfcfd" points="764,135 1165,135 1165,1157 760,1157"/>
<polygon points="434,240 730,255 728,870 433,855"/><polygon points="452,760 695,767 697,822 454,812"/>
<text x="453" y="295" textLength="232" lengthAdjust="spacingAndGlyphs">Enter the code you</text>
<text x="455" y="342" textLength="190" lengthAdjust="spacingAndGlyphs">recieved on your</text>
<text x="457" y="394" textLength="135" lengthAdjust="spacingAndGlyphs">***** 007</text>
<path d="M460,468L498,470M532,476L574,477M608,482L640,484M660,486L700,487"/>
<text class="s" x="625" y="535" textLength="105" lengthAdjust="spacingAndGlyphs">Didn't get code?</text>
<text x="532" y="803" textLength="48" lengthAdjust="spacingAndGlyphs">Next</text>
<ellipse cx="583" cy="908" rx="16" ry="20"/><text class="s" x="576" y="918" textLength="14" lengthAdjust="spacingAndGlyphs">7</text>
<polygon points="780,252 1075,245 1118,840 800,842"/>
<ellipse cx="929" cy="377" rx="20" ry="21"/><path d="M920,377L927,388L940,368"/>
<text x="877" y="445" textLength="150" lengthAdjust="spacingAndGlyphs">Phone Number</text>
<text x="922" y="490" textLength="80" lengthAdjust="spacingAndGlyphs">Verified</text>
<ellipse cx="977" cy="877" rx="16" ry="20"/><text class="s" x="970" y="887" textLength="14" lengthAdjust="spacingAndGlyphs">8</text>
<polygon points="1142,250 1425,255 1492,848 1198,836"/><polygon points="1208,748 1447,750 1447,797 1212,790"/>
<text x="1163" y="300" textLength="222" lengthAdjust="spacingAndGlyphs">Enter the code yo</text>
<text x="1168" y="345" textLength="205" lengthAdjust="spacingAndGlyphs">recieved on email</text>
<text class="s" x="1178" y="388" textLength="218" lengthAdjust="spacingAndGlyphs">......@gmail.com</text>
<path d="M1178,452L1215,450M1230,450L1270,447M1290,445L1325,443M1350,442L1392,440"/>
<text x="1300" y="782" textLength="52" lengthAdjust="spacingAndGlyphs">Next</text>
<ellipse cx="1360" cy="875" rx="16" ry="20"/><text class="s" x="1353" y="885" textLength="14" lengthAdjust="spacingAndGlyphs">9</text>
<path d="M1455,128L1520,135M1505,655L1520,655"/>
<path class="g" d="M1460,500L1520,760"/>
<text class="s" x="1468" y="302" textLength="52" lengthAdjust="spacingAndGlyphs">p Mem</text>
<text class="s" x="1470" y="353" textLength="45" lengthAdjust="spacingAndGlyphs">up &amp;</text>
</g>

<!-- Row 3 left -->
<g class="z" transform="translate(0,3350) scale(.4592,.3333)">
<polygon class="p" style="fill:#b6b6bc" points="782,1125 782,1167 750,1167"/>
<polygon points="77,266 367,267 360,938 78,937"/>
<text class="s" x="90" y="298" textLength="195" lengthAdjust="spacingAndGlyphs">Welcome to Moolah !</text>
<polygon points="97,335 340,322 345,452 100,455"/>
<text class="s" x="180" y="360" textLength="60" lengthAdjust="spacingAndGlyphs">$ 0.00</text>
<path d="M120,392L150,390M265,385L300,385M105,455L105,500L346,507L345,452M228,458L230,505"/>
<text class="s" x="113" y="432" textLength="65" lengthAdjust="spacingAndGlyphs">Routing</text>
<text class="s" x="260" y="415" textLength="55" lengthAdjust="spacingAndGlyphs">Account</text>
<text class="s" x="120" y="478" textLength="92" lengthAdjust="spacingAndGlyphs">Transaction</text>
<text class="s" x="240" y="477" textLength="103" lengthAdjust="spacingAndGlyphs">Share Account</text>
<text class="s" x="260" y="500" textLength="55" lengthAdjust="spacingAndGlyphs">Number</text>
<polygon points="90,517 240,512 242,560 100,565"/><polygon points="245,520 348,518 350,562 250,562"/>
<text class="s" x="106" y="549" textLength="125" lengthAdjust="spacingAndGlyphs">Transfer Money</text>
<text class="s" x="253" y="549" textLength="95" lengthAdjust="spacingAndGlyphs">Request Money</text>
<path d="M78,590L352,577"/>
<text class="s" x="90" y="613" textLength="202" lengthAdjust="spacingAndGlyphs">Featured | Premium Features</text>
<polygon points="85,635 165,630 167,688 90,692"/><polygon points="168,628 245,625 247,682 175,685"/><polygon points="248,620 305,618 312,675 255,678"/>
<text class="s" x="98" y="655" textLength="48" lengthAdjust="spacingAndGlyphs">mobile</text><text class="s" x="100" y="678" textLength="60" lengthAdjust="spacingAndGlyphs">payments</text>
<text class="s" x="180" y="648" textLength="45" lengthAdjust="spacingAndGlyphs">mobile</text><text class="s" x="180" y="672" textLength="55" lengthAdjust="spacingAndGlyphs">recharge</text>
<text class="s" x="255" y="640" textLength="35" lengthAdjust="spacingAndGlyphs">Book</text><text class="s" x="262" y="668" textLength="38" lengthAdjust="spacingAndGlyphs">flight</text>
<text class="s" x="320" y="648" textLength="18" lengthAdjust="spacingAndGlyphs">see</text><text class="s" x="322" y="662" textLength="24" lengthAdjust="spacingAndGlyphs">more</text>
<path d="M325,675H345M338,670L345,675L338,680"/>
<polygon points="90,712 165,708 167,752 95,755"/><polygon points="180,706 245,703 248,748 183,750"/><polygon points="263,703 310,700 310,746 265,748"/>
<path d="M78,778L352,767M80,882L362,870M180,920V968M172,955L180,968L190,955M320,786L330,792L322,798"/>
<text class="s" x="105" y="810" textLength="92" lengthAdjust="spacingAndGlyphs">Add/ Link</text>
<text x="158" y="1003" textLength="95" lengthAdjust="spacingAndGlyphs">Nav bar</text>
<text x="145" y="1077" textLength="130" lengthAdjust="spacingAndGlyphs">Home Screen</text>
<polygon points="437,265 745,247 762,912 455,905"/>
<path d="M440,315L748,295M445,525L745,513M452,708L752,703M455,862L755,860M467,287L456,295L468,305M661,912V1000M653,986L661,1000L670,986"/>
<text class="s" x="488" y="290" textLength="235" lengthAdjust="spacingAndGlyphs">Featured | Premium Features</text>
<text class="s" x="460" y="358" textLength="165" lengthAdjust="spacingAndGlyphs">Recharge &amp; Loads</text>
<rect x="467" y="387" width="26" height="26"/><rect x="550" y="375" width="32" height="35"/><rect x="640" y="370" width="28" height="40"/><rect x="472" y="452" width="26" height="35"/><rect x="560" y="445" width="25" height="32"/><rect x="645" y="440" width="26" height="36"/>
<text class="s" x="458" y="560" textLength="140" lengthAdjust="spacingAndGlyphs">Ticket booking</text>
<rect x="468" y="590" width="26" height="32"/><rect x="545" y="585" width="30" height="33"/><rect x="640" y="578" width="30" height="34"/><rect x="468" y="655" width="26" height="30"/><rect x="550" y="647" width="30" height="30"/><rect x="640" y="647" width="32" height="33"/>
<text class="s" x="465" y="742" textLength="155" lengthAdjust="spacingAndGlyphs">Bills &amp; Payments</text>
<rect x="468" y="770" width="20" height="22"/><rect x="540" y="768" width="22" height="24"/><rect x="640" y="765" width="20" height="24"/><rect x="468" y="815" width="18" height="22"/>
<ellipse cx="593" cy="852" rx="16" ry="18"/><rect x="585" y="843" width="16" height="18"/>
<path d="M472,880L481,866L490,880H486V890H476V880ZM525,873L555,875V893L525,890Z"/>
<text class="s" x="583" y="897" textLength="32" lengthAdjust="spacingAndGlyphs">Scan</text>
<text x="652" y="900" textLength="18" lengthAdjust="spacingAndGlyphs">$</text>
<path d="M716,900V885Q717,872 723,872Q730,872 731,885V900ZM716,888H731"/>
<text x="533" y="1037" textLength="208" lengthAdjust="spacingAndGlyphs">Subscription Screen</text>
<!-- Card 8 -->
<polygon class="p" style="fill:#ecece4" points="968,135 1000,135 968,185"/>
<polygon points="1007,235 1300,255 1313,875 1002,860"/>
<path d="M1035,255L1020,268L1036,280"/>
<text x="1055" y="283" textLength="155" lengthAdjust="spacingAndGlyphs">Scan QR Code</text>
<polygon points="1045,448 1250,458 1255,618 1041,604"/><polygon points="1170,570 1250,572 1252,612 1172,605"/>
<text class="s" x="1075" y="485" textLength="155" lengthAdjust="spacingAndGlyphs">Allow Moolah App</text>
<text class="s" x="1060" y="520" textLength="148" lengthAdjust="spacingAndGlyphs">to access your</text>
<text class="s" x="1060" y="555" textLength="88" lengthAdjust="spacingAndGlyphs">Camera</text>
<text class="s" x="1075" y="590" textLength="50" lengthAdjust="spacingAndGlyphs">Deny</text>
<text class="s" x="1180" y="600" textLength="46" lengthAdjust="spacingAndGlyphs">Allow</text>
<ellipse cx="1134" cy="908" rx="26" ry="21"/><text class="s" x="1120" y="918" textLength="28" lengthAdjust="spacingAndGlyphs">25</text>
<text x="1082" y="972" textLength="175" lengthAdjust="spacingAndGlyphs">Scan QR code</text>
</g>

<!-- Row 3 right -->
<g class="z" transform="translate(720,3350) scale(.4592,.3333)">
<polygon class="p" style="fill:#dcd9c4" points="437,135 533,135 533,525 470,155"/>
<polygon class="p" style="fill:#e88a55" points="437,135 482,135 452,156 440,156"/>
<polygon points="-186,258 72,248 133,888 -155,888"/>
<ellipse cx="-152" cy="310" rx="14" ry="17"/>
<path d="M-120,300L-92,298M-122,318L-35,315M-172,398L75,398M-170,460L85,456M-168,537L95,528M-165,615L102,598M-156,685L105,665M-150,752L115,738M-156,830L128,825M46,415L58,422L46,430M52,488L64,495L52,502M62,568L74,575L62,582M66,632L78,640L66,648M75,702L87,708L75,714"/>
<text class="s" x="0" y="300" textLength="55" lengthAdjust="spacingAndGlyphs">$0.00</text>
<text class="s" x="-155" y="435" textLength="130" lengthAdjust="spacingAndGlyphs">Account Details</text>
<text class="s" x="-153" y="510" textLength="160" lengthAdjust="spacingAndGlyphs">Transaction History</text>
<text class="s" x="-148" y="585" textLength="125" lengthAdjust="spacingAndGlyphs">Notifications</text>
<text x="-138" y="655" textLength="155" lengthAdjust="spacingAndGlyphs">Group Payments</text>
<text x="-134" y="725" textLength="155" lengthAdjust="spacingAndGlyphs">Contact Support</text>
<path d="M-133,850L-123,836L-112,850H-117V862H-128V850ZM-82,842L-52,844V864L-82,862Z"/>
<ellipse cx="-18" cy="835" rx="17" ry="20"/><rect x="-27" y="826" width="18" height="18"/>
<text class="s" x="-33" y="885" textLength="40" lengthAdjust="spacingAndGlyphs">Scan</text>
<text x="26" y="866" textLength="18" lengthAdjust="spacingAndGlyphs">$</text>
<path class="f" d="M86,872V855Q88,833 97,833Q107,833 110,855V872Z"/>
<ellipse cx="5" cy="925" rx="16" ry="22"/><text class="s" x="-5" y="935" textLength="20" lengthAdjust="spacingAndGlyphs">26</text>
<text x="-65" y="998" textLength="125" lengthAdjust="spacingAndGlyphs">User Profile</text>
<polygon points="157,238 423,245 505,878 222,875"/>
<path d="M215,798L495,802M450,272L530,760M500,610L533,760M505,680H520M520,765L533,770M525,820H533M186,262L175,270L186,278"/>
<text x="203" y="285" textLength="165" lengthAdjust="spacingAndGlyphs">Talk to Support</text>
<text class="s" x="193" y="340" textLength="198" lengthAdjust="spacingAndGlyphs">How can we reach you?</text>
<rect x="233" y="820" width="28" height="20"/><path d="M233,820L247,832L261,820"/>
<text class="s" x="268" y="840" textLength="52" lengthAdjust="spacingAndGlyphs">Email</text>
<text class="s" x="420" y="840" textLength="52" lengthAdjust="spacingAndGlyphs">24hrs</text>
<ellipse cx="382" cy="908" rx="22" ry="21"/><text class="s" x="370" y="918" textLength="24" lengthAdjust="spacingAndGlyphs">27</text>
<text x="298" y="995" textLength="160" lengthAdjust="spacingAndGlyphs">Contact support</text>
<!-- Card 9 -->
<path d="M768,227L1113,227L1138,937L880,952Q790,945 780,890ZM772,256L1113,262"/>
<text x="868" y="552" textLength="138" lengthAdjust="spacingAndGlyphs">Moolah App</text>
<text x="868" y="1025" textLength="204" lengthAdjust="spacingAndGlyphs">Splash Screen</text>
<path d="M1170,235Q1172,222 1190,222L1410,222L1485,810Q1492,840 1470,860L1260,893Q1225,890 1215,850Z"/>
<text class="s" x="1195" y="305" textLength="125" lengthAdjust="spacingAndGlyphs">Enter Name</text>
<polygon points="1203,360 1413,346 1418,393 1212,404"/>
<polygon points="1216,597 1440,577 1467,745 1243,760"/>
<path d="M1222,632L1445,615M1232,680L1455,660M1240,722L1462,712M1250,595L1272,755M1300,590L1327,752M1352,583L1388,748M1400,580L1430,742"/>
<text class="s" x="1225" y="622" textLength="16" lengthAdjust="spacingAndGlyphs">R</text><text class="s" x="1270" y="620" textLength="14" lengthAdjust="spacingAndGlyphs">L</text><text class="s" x="1318" y="616" textLength="16" lengthAdjust="spacingAndGlyphs">J</text><text class="s" x="1372" y="610" textLength="16" lengthAdjust="spacingAndGlyphs">e</text><text class="s" x="1412" y="612" textLength="16" lengthAdjust="spacingAndGlyphs">h</text>
<text class="s" x="1232" y="664" textLength="16" lengthAdjust="spacingAndGlyphs">a</text><text class="s" x="1268" y="662" textLength="18" lengthAdjust="spacingAndGlyphs">b</text><text class="s" x="1324" y="658" textLength="16" lengthAdjust="spacingAndGlyphs">c</text><text class="s" x="1382" y="652" textLength="18" lengthAdjust="spacingAndGlyphs">f</text><text class="s" x="1424" y="650" textLength="8" lengthAdjust="spacingAndGlyphs">l</text>
<text class="s" x="1244" y="708" textLength="14" lengthAdjust="spacingAndGlyphs">s</text><text class="s" x="1286" y="706" textLength="18" lengthAdjust="spacingAndGlyphs">d</text><text class="s" x="1338" y="700" textLength="18" lengthAdjust="spacingAndGlyphs">g</text><text class="s" x="1392" y="694" textLength="16" lengthAdjust="spacingAndGlyphs">k</text><text class="s" x="1430" y="692" textLength="14" lengthAdjust="spacingAndGlyphs">p</text>
<text class="s" x="1252" y="746" textLength="12" lengthAdjust="spacingAndGlyphs">t</text><text class="s" x="1286" y="746" textLength="24" lengthAdjust="spacingAndGlyphs">m</text><text class="s" x="1345" y="740" textLength="18" lengthAdjust="spacingAndGlyphs">n</text><text class="s" x="1396" y="738" textLength="16" lengthAdjust="spacingAndGlyphs">o</text><text class="s" x="1440" y="735" textLength="18" lengthAdjust="spacingAndGlyphs">Q</text>
<polygon points="1248,800 1462,796 1467,842 1255,855"/>
<text x="1318" y="836" textLength="62" lengthAdjust="spacingAndGlyphs">Next</text>
<ellipse cx="1352" cy="968" rx="21" ry="24"/><text class="s" x="1345" y="978" textLength="14" lengthAdjust="spacingAndGlyphs">2</text>
<path d="M1568,232L1498,240Q1495,250 1497,265L1568,700M1568,325L1525,328L1535,375L1568,375"/>
<text class="s" x="1522" y="297" textLength="46" lengthAdjust="spacingAndGlyphs">Ente</text>
</g>
</svg>
</body>
</html>
